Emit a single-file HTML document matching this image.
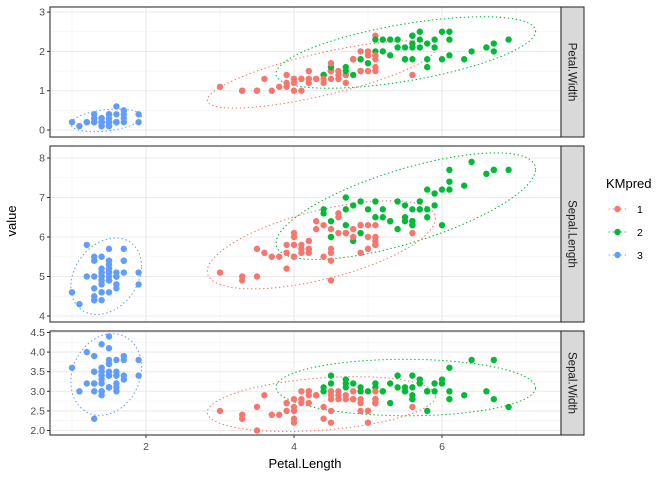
<!DOCTYPE html>
<html><head><meta charset="utf-8"><style>
body{margin:0;background:#fff;}
svg{display:block;font-family:"Liberation Sans",sans-serif;}
</style></head><body>
<svg id="chart" width="672" height="480"></svg>
<script>
// iris data (Sepal.Length, Sepal.Width, Petal.Length, Petal.Width)
const sepalLength=[5.1,4.9,4.7,4.6,5.0,5.4,4.6,5.0,4.4,4.9,5.4,4.8,4.8,4.3,5.8,5.7,5.4,5.1,5.7,5.1,5.4,5.1,4.6,5.1,4.8,5.0,5.0,5.2,5.2,4.7,4.8,5.4,5.2,5.5,4.9,5.0,5.5,4.9,4.4,5.1,5.0,4.5,4.4,5.0,5.1,4.8,5.1,4.6,5.3,5.0,
7.0,6.4,6.9,5.5,6.5,5.7,6.3,4.9,6.6,5.2,5.0,5.9,6.0,6.1,5.6,6.7,5.6,5.8,6.2,5.6,5.9,6.1,6.3,6.1,6.4,6.6,6.8,6.7,6.0,5.7,5.5,5.5,5.8,6.0,5.4,6.0,6.7,6.3,5.6,5.5,5.5,6.1,5.8,5.0,5.6,5.7,5.7,6.2,5.1,5.7,
6.3,5.8,7.1,6.3,6.5,7.6,4.9,7.3,6.7,7.2,6.5,6.4,6.8,5.7,5.8,6.4,6.5,7.7,7.7,6.0,6.9,5.6,7.7,6.3,6.7,7.2,6.2,6.1,6.4,7.2,7.4,7.9,6.4,6.3,6.1,7.7,6.3,6.4,6.0,6.9,6.7,6.9,5.8,6.8,6.7,6.7,6.3,6.5,6.2,5.9];
const sepalWidth=[3.5,3.0,3.2,3.1,3.6,3.9,3.4,3.4,2.9,3.1,3.7,3.4,3.0,3.0,4.0,4.4,3.9,3.5,3.8,3.8,3.4,3.7,3.6,3.3,3.4,3.0,3.4,3.5,3.4,3.2,3.1,3.4,4.1,4.2,3.1,3.2,3.5,3.6,3.0,3.4,3.5,2.3,3.2,3.5,3.8,3.0,3.8,3.2,3.7,3.3,
3.2,3.2,3.1,2.3,2.8,2.8,3.3,2.4,2.9,2.7,2.0,3.0,2.2,2.9,2.9,3.1,3.0,2.7,2.2,2.5,3.2,2.8,2.5,2.8,2.9,3.0,2.8,3.0,2.9,2.6,2.4,2.4,2.7,2.7,3.0,3.4,3.1,2.3,3.0,2.5,2.6,3.0,2.6,2.3,2.7,3.0,2.9,2.9,2.5,2.8,
3.3,2.7,3.0,2.9,3.0,3.0,2.5,2.9,2.5,3.6,3.2,2.7,3.0,2.5,2.8,3.2,3.0,3.8,2.6,2.2,3.2,2.8,2.8,2.7,3.3,3.2,2.8,3.0,2.8,3.0,2.8,3.8,2.8,2.8,2.6,3.0,3.4,3.1,3.0,3.1,3.1,3.1,2.7,3.2,3.3,3.0,2.5,3.0,3.4,3.0];
const petalLength=[1.4,1.4,1.3,1.5,1.4,1.7,1.4,1.5,1.4,1.5,1.5,1.6,1.4,1.1,1.2,1.5,1.3,1.4,1.7,1.5,1.7,1.5,1.0,1.7,1.9,1.6,1.6,1.5,1.4,1.6,1.6,1.5,1.5,1.4,1.5,1.2,1.3,1.4,1.3,1.5,1.3,1.3,1.3,1.6,1.9,1.4,1.6,1.4,1.5,1.4,
4.7,4.5,4.9,4.0,4.6,4.5,4.7,3.3,4.6,3.9,3.5,4.2,4.0,4.7,3.6,4.4,4.5,4.1,4.5,3.9,4.8,4.0,4.9,4.7,4.3,4.4,4.8,5.0,4.5,3.5,3.8,3.7,3.9,5.1,4.5,4.5,4.7,4.4,4.1,4.0,4.4,4.6,4.0,3.3,4.2,4.2,4.2,4.3,3.0,4.1,
6.0,5.1,5.9,5.6,5.8,6.6,4.5,6.3,5.8,6.1,5.1,5.3,5.5,5.0,5.1,5.3,5.5,6.7,6.9,5.0,5.7,4.9,6.7,4.9,5.7,6.0,4.8,4.9,5.6,5.8,6.1,6.4,5.6,5.1,5.6,6.1,5.6,5.5,4.8,5.4,5.6,5.1,5.1,5.9,5.7,5.2,5.0,5.2,5.4,5.1];
const petalWidth=[0.2,0.2,0.2,0.2,0.2,0.4,0.3,0.2,0.2,0.1,0.2,0.2,0.1,0.1,0.2,0.4,0.4,0.3,0.3,0.3,0.2,0.4,0.2,0.5,0.2,0.2,0.4,0.2,0.2,0.2,0.2,0.4,0.1,0.2,0.2,0.2,0.2,0.1,0.2,0.2,0.3,0.3,0.2,0.6,0.4,0.3,0.2,0.2,0.2,0.2,
1.4,1.5,1.5,1.3,1.5,1.3,1.6,1.0,1.3,1.4,1.0,1.5,1.0,1.4,1.3,1.4,1.5,1.0,1.5,1.1,1.8,1.3,1.5,1.2,1.3,1.4,1.4,1.7,1.5,1.0,1.1,1.0,1.2,1.6,1.5,1.6,1.5,1.3,1.3,1.3,1.2,1.4,1.2,1.0,1.3,1.2,1.3,1.3,1.1,1.3,
2.5,1.9,2.1,1.8,2.2,2.1,1.7,1.8,1.8,2.5,2.0,1.9,2.1,2.0,2.4,2.3,1.8,2.2,2.3,1.5,2.3,2.0,2.0,1.8,2.1,1.8,1.8,1.8,2.1,1.6,1.9,2.0,2.2,1.5,1.4,2.3,2.4,1.8,1.8,2.1,2.4,2.3,1.9,2.3,2.5,2.3,1.9,2.0,2.3,1.8];
// k-means centroids (scaled k-means, raw units) and feature sds
const centroidSL=[5.80,6.78,5.01];
const centroidSW=[2.67,3.10,3.43];
const centroidPL=[4.37,5.51,1.46];
const centroidPW=[1.41,1.97,0.25];
const featureSd=[0.828,0.436,1.765,0.762];
const clusterLabels=["1","2","3"];
const xTicks=[2,4,6];
const facetNames=["Petal.Width","Sepal.Length","Sepal.Width"];
const ticksPW=[0,1,2,3];
const ticksSL=[4,5,6,7,8];
const ticksSW=["2.0","2.5","3.0","3.5","4.0","4.5"];

const colors=["#F8766D","#00BA38","#619CFF"];
const NS="http://www.w3.org/2000/svg";
const svg=document.getElementById('chart');
function el(tag,attrs,parent){const e=document.createElementNS(NS,tag);for(const k in attrs)e.setAttribute(k,attrs[k]);(parent||svg).appendChild(e);return e;}

const cluster=sepalLength.map((_,i)=>{let best=0,bd=1e9;for(let c=0;c<3;c++){const d=((sepalLength[i]-centroidSL[c])/featureSd[0])**2+((sepalWidth[i]-centroidSW[c])/featureSd[1])**2+((petalLength[i]-centroidPL[c])/featureSd[2])**2+((petalWidth[i]-centroidPW[c])/featureSd[3])**2;if(d<bd){bd=d;best=c;}}return best;});

const L=50,R=561;
const xScale=v=>146+(v-2)*74;
const panels=[
 {name:facetNames[0],vals:petalWidth,top:7,bot:137,y:v=>130-v*39.3,ticks:ticksPW,minor:[0.5,1.5,2.5]},
 {name:facetNames[1],vals:sepalLength,top:146,bot:322,y:v=>276.5-(v-5)*39.5,ticks:ticksSL,minor:[4.5,5.5,6.5,7.5]},
 {name:facetNames[2],vals:sepalWidth,top:331,bot:435,y:v=>430.5-(v-2)*39.2,ticks:ticksSW,minor:[2.25,2.75,3.25,3.75,4.25]}
];

panels.forEach((p,pi)=>{
 const g=el('g',{});
 
 
 el('rect',{x:L,y:p.top,width:R-L,height:p.bot-p.top,fill:'#fff'},g);
 [1,3,5,7].forEach(v=>el('line',{x1:xScale(v),x2:xScale(v),y1:p.top,y2:p.bot,stroke:'#f2f2f2','stroke-width':0.6},g));
 p.minor.forEach(v=>el('line',{x1:L,x2:R,y1:p.y(v),y2:p.y(v),stroke:'#f2f2f2','stroke-width':0.6},g));
 xTicks.forEach(v=>el('line',{x1:xScale(v),x2:xScale(v),y1:p.top,y2:p.bot,stroke:'#ebebeb','stroke-width':1.1},g));
 p.ticks.forEach(t=>{const yy=p.y(+t);
  el('line',{x1:L,x2:R,y1:yy,y2:yy,stroke:'#ebebeb','stroke-width':1.1},g);
  el('line',{x1:L-3,x2:L,y1:yy,y2:yy,stroke:'#333','stroke-width':1},g);
  const tx=el('text',{x:L-5,y:yy+3.5,'text-anchor':'end','font-size':'10.5px',fill:'#4d4d4d'},g);tx.textContent=t;
  
  
 });
 for(let c=0;c<3;c++){
  const xs=[],ys=[];petalLength.forEach((v,i)=>{if(cluster[i]===c){xs.push(v);ys.push(p.vals[i]);}});
  const n=xs.length;if(n<3)continue;
  const mx=xs.reduce((a,b)=>a+b)/n,my=ys.reduce((a,b)=>a+b)/n;
  let sxx=0,syy=0,sxy=0;for(let i=0;i<n;i++){sxx+=(xs[i]-mx)**2;syy+=(ys[i]-my)**2;sxy+=(xs[i]-mx)*(ys[i]-my);}
  sxx/=n-1;syy/=n-1;sxy/=n-1;
  const l11=Math.sqrt(sxx),l21=sxy/l11,l22=Math.sqrt(Math.max(syy-l21*l21,1e-9));
  const rad=2.75;let d='';
  for(let k=0;k<=100;k++){const t=k/100*2*Math.PI;const u=Math.cos(t)*rad,w=Math.sin(t)*rad;
   const X=mx+l11*u,Y=my+l21*u+l22*w;d+=(k?'L':'M')+xScale(X).toFixed(1)+','+p.y(Y).toFixed(1);}
  const e=el('path',{d:d,fill:'none',stroke:colors[c],'stroke-width':1.1,'stroke-dasharray':'0.5 3.5','stroke-linecap':'round'},g);
  
  
 }
 petalLength.forEach((v,i)=>{
  const cc=el('circle',{cx:xScale(v),cy:p.y(p.vals[i]),r:3.2,fill:colors[cluster[i]]},g);
  
  
 });
 el('rect',{x:L,y:p.top,width:R-L,height:p.bot-p.top,fill:'none',stroke:'#333','stroke-width':1.1},g);
 const s=el('rect',{x:R,y:p.top,width:23,height:p.bot-p.top,fill:'#d9d9d9',stroke:'#333','stroke-width':1.1},g);
 
 
 const st=el('text',{x:0,y:0,'text-anchor':'middle','font-size':'11.5px',fill:'#1a1a1a',transform:`translate(${R+7.5},${(p.top+p.bot)/2}) rotate(90)`},g);
 st.textContent=p.name;
 
 
});
xTicks.forEach(v=>{
 el('line',{x1:xScale(v),x2:xScale(v),y1:435,y2:438,stroke:'#333','stroke-width':1});
 const t=el('text',{x:xScale(v),y:450,'text-anchor':'middle','font-size':'10.5px',fill:'#4d4d4d'});t.textContent=v;
 
 
});
const xt=el('text',{x:305,y:468,'text-anchor':'middle','font-size':'13px',fill:'#000'});xt.textContent='Petal.Length';


const yt=el('text',{x:0,y:0,'text-anchor':'middle','font-size':'13px',fill:'#000',transform:'translate(16,221) rotate(-90)'});yt.textContent='value';


const lt=el('text',{x:606,y:188,'font-size':'13px',fill:'#000'});lt.textContent='KMpred';


clusterLabels.forEach((lab,c)=>{
 const yy=209+c*23;
 const g=el('g',{});
 
 
 el('line',{x1:609,x2:627,y1:yy,y2:yy,stroke:colors[c],'stroke-width':1,'stroke-dasharray':'0.5 3.5','stroke-linecap':'round'},g);
 el('circle',{cx:617.5,cy:yy,r:3.2,fill:colors[c]},g);
 const t=el('text',{x:637,y:yy+4,'font-size':'10.5px',fill:'#000'},g);t.textContent=lab;
});
</script>
</body></html>
